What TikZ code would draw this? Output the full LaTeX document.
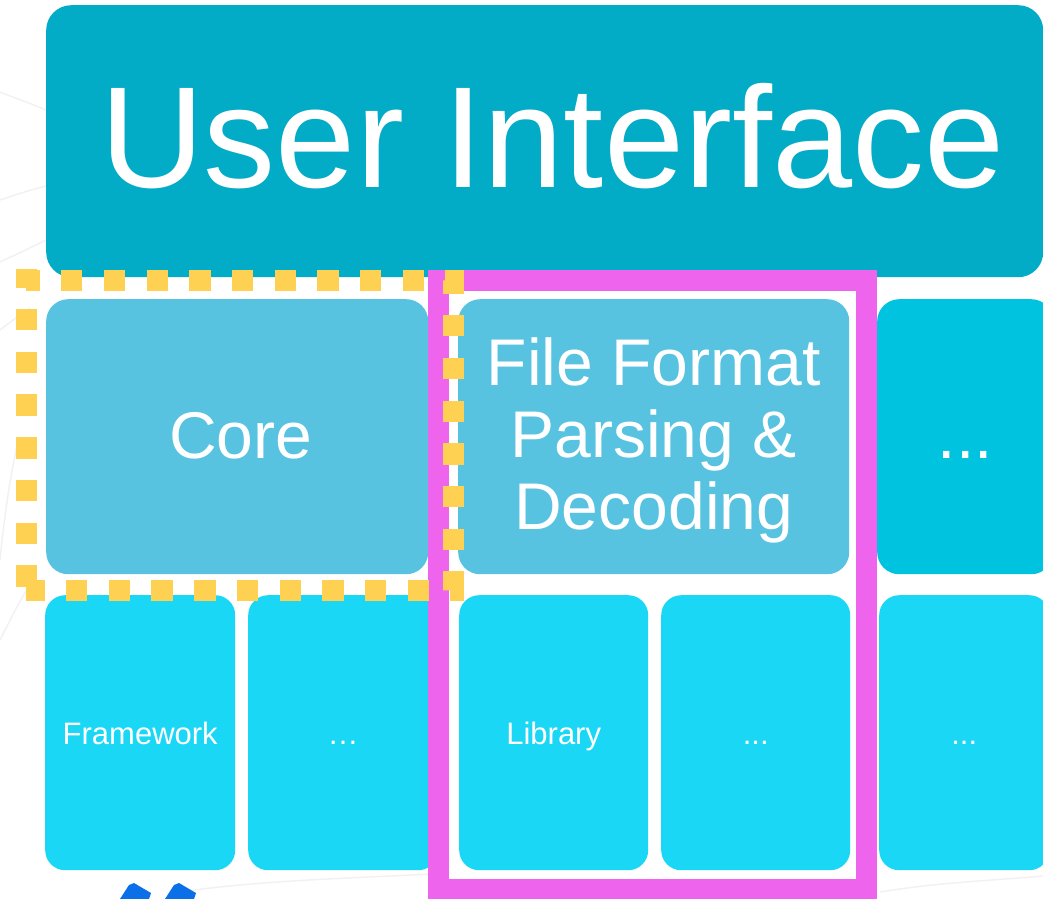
\documentclass[tikz,border=0pt]{standalone}
\usepackage{fontspec}
\setmainfont{Liberation Sans}
\definecolor{uiteal}{HTML}{02ABC6}
\definecolor{coreblue}{HTML}{57C3E0}
\definecolor{sideblue}{HTML}{00C3E0}
\definecolor{libblue}{HTML}{1BD7F6}
\definecolor{groupmagenta}{HTML}{EE64EC}
\definecolor{scopeyellow}{HTML}{FFD152}
\definecolor{markblue}{HTML}{0B6FE8}
\definecolor{swoosh}{HTML}{F1F1F1}
\begin{document}
\begin{tikzpicture}[x=1pt,y=-1pt,
  tile/.style={anchor=north west, inner sep=0pt, text=white},
  toptile/.style={tile, rounded corners=25pt, fill=uiteal,
    font=\fontsize{144}{172}\selectfont, text height=100pt, text depth=8pt},
  midtile/.style={tile, rounded corners=22pt, minimum height=275pt,
    font=\fontsize{66}{72}\selectfont},
  midone/.style={midtile, text height=50pt, text depth=7pt},
  lowtile/.style={tile, rounded corners=20pt, fill=libblue,
    minimum height=275pt, font=\fontsize{31}{37}\selectfont,
    text height=26pt, text depth=3pt},
  groupframe/.style={draw=groupmagenta, line width=21pt, line join=miter},
  scopeframe/.style={draw=scopeyellow, line width=21pt, line join=miter,
    dash pattern=on 21.35pt off 21.35pt},
  bgline/.style={draw=swoosh, line width=1.4pt},
]
\useasboundingbox (0,0) rectangle (1043,898);
\fill[white] (0,0) rectangle (1043,898);

% faint background swooshes
\draw[bgline] (0,92) .. controls (20,100) and (35,105) .. (46,110);
\draw[bgline] (0,200) .. controls (15,195) and (30,190) .. (46,186);
\draw[bgline] (0,262) .. controls (15,255) and (30,248) .. (46,240);
\draw[bgline] (0,330) .. controls (10,322) and (20,315) .. (30,308);
\draw[bgline] (0,560) .. controls (6,500) and (12,470) .. (18,440);
\draw[bgline] (0,640) .. controls (10,620) and (20,600) .. (30,585);
\draw[bgline] (180,892) .. controls (260,880) and (360,878) .. (430,874);
\draw[bgline] (880,892) .. controls (940,882) and (1000,880) .. (1043,876);

% user interface layer
\node[toptile, minimum width=997pt, minimum height=272pt] (ui) at (46,5)
  {\hspace*{15pt}User Interface};

% middle layer
\node[midone, fill=coreblue, minimum width=382pt] (core) at (46,299)
  {\hspace*{7pt}Core};
\node[midtile, fill=coreblue, minimum width=391pt, align=center] (ffp) at (458,299)
  {File Format\\Parsing \&\\\raisebox{0pt}[\height][6pt]{Decoding}};
\node[midone, fill=sideblue, minimum width=176pt] (more) at (877,299) {...};

% bottom layer
\node[lowtile, minimum width=190pt] (fw) at (45,595) {Framework};
\node[lowtile, minimum width=190pt] (fwmore) at (248,595) {…};
\node[lowtile, minimum width=189pt] (lib) at (459,595) {Library};
\node[lowtile, minimum width=189pt] (libmore) at (661,595) {...};
\node[lowtile, minimum width=170pt] (rest) at (879,595) {...};

% highlight frames
\coordinate (g1) at (438,280);
\coordinate (g2) at (866,280);
\coordinate (g3) at (866,889);
\coordinate (g4) at (438,889);
\draw[groupframe] (g1) -- (g2) -- (g3) -- (g4) -- cycle;

\coordinate (s0) at (26,269);
\coordinate (s1) at (26,280);
\coordinate (s2) at (453,280);
\coordinate (s3) at (453,590);
\coordinate (s4) at (26,590);
\draw[scopeframe, dash phase=7.6pt] (s1) -- (s2) -- (s3) -- (s4);
\draw[scopeframe, dash phase=2.65pt] (s0) -- (s4);

% blue marks at the lower edge
\fill[markblue] (120,899) -- (129,885) -- (134,883) -- (151,893) -- (149,899) -- cycle;
\fill[markblue] (165,899) -- (174,885) -- (179,883) -- (196,893) -- (194,899) -- cycle;
\end{tikzpicture}
\end{document}
